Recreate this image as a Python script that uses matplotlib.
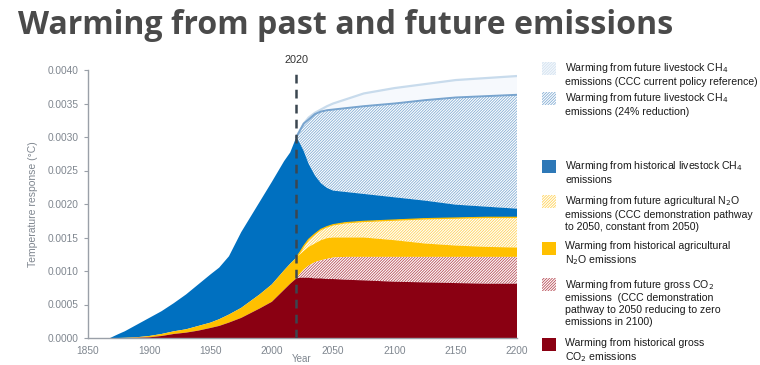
import numpy as np
import matplotlib
matplotlib.use("Agg")
import matplotlib.pyplot as plt
from matplotlib.patches import Rectangle

plt.rcParams['hatch.linewidth'] = 0.6

# ---- data (stack boundaries, °C) ----
years = [1850, 1868, 1875, 1880, 1890, 1900, 1910, 1920, 1930, 1940, 1950, 1957, 1965,
         1975, 1990, 2000, 2010, 2015, 2020, 2023, 2026, 2030, 2035, 2040, 2045, 2050,
         2060, 2075, 2100, 2125, 2150, 2175, 2200]

co2_hist_top = [0, 0, 0, 0, .000003, .00001, .00003, .00006, .00008, .00011, .00015, .00018,
                .00023, .0003, .00044, .00054, .00072, .00081, .00089, .0009, .0009, .0009,
                .00089, .00089, .00088, .00088, .00087, .00086, .00084, .00083, .00082,
                .00081, .00081]
co2_future_top = [0, 0, 0, 0, .000003, .00001, .00003, .00006, .00008, .00011, .00015, .00018,
                  .00023, .0003, .00044, .00054, .00072, .00081, .00089, .00096, .00102,
                  .00108, .00113, .00116, .00118, .0012, .00121, .00121, .00121, .00121,
                  .00121, .00121, .00121]
n2o_hist_top = [0, 0, 0, .000003, .000012, .00003, .00006, .0001, .00013, .00018, .00023,
                .00028, .00035, .00045, .00065, .0008, .00101, .00111, .0012, .00125, .0013,
                .00136, .00141, .00146, .00149, .0015, .0015, .0015, .00146, .00141, .00138,
                .00136, .00135]
n2o_future_top = [0, 0, 0, .000003, .000012, .00003, .00006, .0001, .00013, .00018, .00023,
                  .00028, .00035, .00045, .00065, .0008, .00101, .00111, .0012, .00128,
                  .00137, .00147, .00155, .00162, .00166, .00169, .00172, .00174, .00176,
                  .00178, .00179, .0018, .0018]
ch4_hist_top = [0, 0, .00006, .0001, .0002, .0003, .0004, .00052, .00065, .0008, .00095,
                .00105, .00122, .00158, .00203, .00233, .00264, .00277, .003, .0029, .00279,
                .0026, .00243, .00231, .00224, .0022, .00218, .00215, .0021, .00205, .00199,
                .00196, .00193]
ch4_future24_top = [0, 0, .00006, .0001, .0002, .0003, .0004, .00052, .00065, .0008, .00095,
                    .00105, .00122, .00158, .00203, .00233, .00264, .00277, .003, .0031,
                    .0032, .00326, .00334, .00338, .0034, .00341, .00343, .00346, .0035,
                    .00355, .00359, .00361, .00363]
ch4_ref_top = [0, 0, .00006, .0001, .0002, .0003, .0004, .00052, .00065, .0008, .00095,
               .00105, .00122, .00158, .00203, .00233, .00264, .00277, .003, .0031, .0032,
               .00329, .00336, .00341, .00346, .0035, .00356, .00365, .00373, .00379,
               .00385, .00388, .00391]

yticks = [0, .0005, .001, .0015, .002, .0025, .003, .0035, .004]
xticks = [1850, 1900, 1950, 2000, 2050, 2100, 2150, 2200]
marker_year = 2020

title = "Warming from past and future emissions"
legend_items = [
    ("Warming from future livestock CH$_4$\nemissions (CCC current policy reference)", 'ref'),
    ("Warming from future livestock CH$_4$\nemissions (24% reduction)", 'ch4f'),
    ("Warming from historical livestock CH$_4$\nemissions", 'ch4h'),
    ("Warming from future agricultural N$_2$O\nemissions (CCC demonstration pathway\nto 2050, constant from 2050)", 'n2of'),
    ("Warming from historical agricultural\nN$_2$O emissions", 'n2oh'),
    ("Warming from future gross CO$_2$\nemissions  (CCC demonstration\npathway to 2050 reducing to zero\nemissions in 2100)", 'co2f'),
    ("Warming from historical gross\nCO$_2$ emissions", 'co2h'),
]

# ---- styles ----
DARKRED = '#8a0012'
RED_H = '#b9505a'
YELLOW = '#ffc000'
YELLOW_H = '#ffd35a'
BLUE = '#0070c0'
BLUE_H = '#84aed5'
GRAY = '#7f868f'
HATCH = '/' * 12

styles = {
    'ref': dict(facecolor='#f4f8fc', edgecolor='#d3e2f0', hatch=HATCH),
    'ch4f': dict(facecolor='white', edgecolor=BLUE_H, hatch=HATCH),
    'ch4h': dict(facecolor='#2e78b7', edgecolor='#2e78b7', hatch=None),
    'n2of': dict(facecolor='white', edgecolor=YELLOW_H, hatch=HATCH),
    'n2oh': dict(facecolor=YELLOW, edgecolor=YELLOW, hatch=None),
    'co2f': dict(facecolor='white', edgecolor=RED_H, hatch=HATCH),
    'co2h': dict(facecolor=DARKRED, edgecolor=DARKRED, hatch=None),
}

fig = plt.figure(figsize=(7.6, 3.65), dpi=100)
ax = fig.add_axes([88 / 760, 27 / 365, (517 - 88) / 760, (338 - 70) / 365])

x = np.array(years, dtype=float)
zero = np.zeros_like(x)
c1 = np.array(co2_hist_top)
c2 = np.array(co2_future_top)
c3 = np.array(n2o_hist_top)
c4 = np.array(n2o_future_top)
c5 = np.array(ch4_hist_top)
c6 = np.array(ch4_future24_top)
c7 = np.array(ch4_ref_top)
fut = x >= marker_year

ax.fill_between(x, c6, c7, facecolor='#f6f9fd', edgecolor='none', lw=0)
ax.plot(x[fut], c7[fut], color='#c8dbec', lw=1.6, zorder=3)
ax.fill_between(x, c5, c6, facecolor='white', edgecolor=BLUE_H, hatch=HATCH, lw=0)
ax.plot(x[fut], c6[fut], color='#78a4ce', lw=1.4, zorder=3)
ax.fill_between(x, c4, c5, facecolor=BLUE, edgecolor='none', lw=0)
ax.fill_between(x, c3, c4, facecolor='white', edgecolor=YELLOW_H, hatch=HATCH, lw=0)
ax.plot(x[fut], c4[fut], color=YELLOW, lw=1.0, zorder=3)
ax.fill_between(x, c2, c3, facecolor=YELLOW, edgecolor='none', lw=0)
ax.fill_between(x, c1, c2, facecolor='white', edgecolor=RED_H, hatch=HATCH, lw=0)
ax.fill_between(x, zero, c1, facecolor=DARKRED, edgecolor='none', lw=0)

ax.axvline(marker_year, ymin=0, ymax=1.0, color='#3b4650', lw=1.8, ls=(0, (3.5, 2.5)), zorder=4)
ax.text(marker_year, 0.00408, str(marker_year), ha='center', va='bottom', fontsize=7.8,
        color='#333333', family=['Liberation Sans', 'DejaVu Sans'])

ax.set_xlim(1850, 2200)
ax.set_ylim(0, 0.004)
ax.set_xticks(xticks)
ax.set_yticks(yticks)
ax.set_yticklabels([f"{v:.4f}" for v in yticks])
for s in ('top', 'right'):
    ax.spines[s].set_visible(False)
for s in ('left', 'bottom'):
    ax.spines[s].set_color('#9aa0a8')
    ax.spines[s].set_linewidth(1.0)
ax.tick_params(axis='y', length=3, width=0.8, color='#9aa0a8', labelsize=7.3,
               labelcolor=GRAY, pad=4)
ax.tick_params(axis='x', length=0, labelsize=7.3, labelcolor=GRAY, pad=6)
for lab in ax.get_xticklabels() + ax.get_yticklabels():
    lab.set_family(['Liberation Sans', 'DejaVu Sans'])
ax.set_ylabel("Temperature response (°C)", fontsize=7.5, color=GRAY,
              family=['Liberation Sans', 'DejaVu Sans'], labelpad=6.5)
fig.text(302 / 760, 0.5 / 365, "Year", ha='center', va='bottom', fontsize=7,
         color=GRAY, family=['Liberation Sans', 'DejaVu Sans'])

fig.text(18 / 760, 1 - 34 / 365, title, fontsize=23.1, fontweight='bold', color='#4a4a4a',
         family=['Open Sans', 'DejaVu Sans'], ha='left', va='baseline')

# legend (manual)
patch_tops = [61.5, 91.5, 160, 194.5, 241.5, 278, 338]
for (label, key), ptop in zip(legend_items, patch_tops):
    st = styles[key]
    r = Rectangle((542 / 760, 1 - (ptop + 13) / 365), 14 / 760, 13 / 365,
                  transform=fig.transFigure, facecolor=st['facecolor'],
                  edgecolor=st['edgecolor'], hatch=st['hatch'], lw=0)
    fig.patches.append(r)
    fig.text(565 / 760, 1 - (ptop - 0.5) / 365, label, ha='left', va='top', fontsize=7.6,
             color='#1a1a1a', linespacing=1.22,
             family=['Liberation Sans', 'DejaVu Sans'])

fig.savefig("out.png", dpi=100)
